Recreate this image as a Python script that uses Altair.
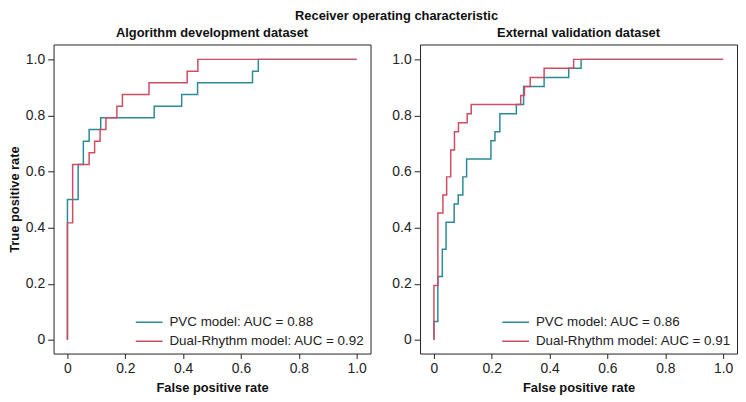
import altair as alt
import pandas as pd

TEAL = "#2b8b96"
RED = "#d04b64"
FONT = "Liberation Sans"

# Algorithm development dataset
dev_pvc_fpr = [0, 0, 0.037, 0.055, 0.075, 0.115, 0.30, 0.395, 0.45, 0.64, 0.66, 1.0]
dev_pvc_tpr = [0, 0.5, 0.625, 0.708, 0.75, 0.792, 0.833, 0.875, 0.917, 0.958, 1.0, 1.0]
dev_dual_fpr = [0, 0, 0.018, 0.075, 0.094, 0.113, 0.133, 0.171, 0.19, 0.282, 0.414, 0.451, 1.0]
dev_dual_tpr = [0, 0.417, 0.625, 0.667, 0.708, 0.75, 0.792, 0.833, 0.875, 0.917, 0.958, 1.0, 1.0]

# External validation dataset
ext_pvc_fpr = [0, 0, 0.0136, 0.029, 0.042, 0.07, 0.084, 0.1, 0.113, 0.197, 0.211, 0.228,
               0.285, 0.31, 0.381, 0.466, 0.509, 1.0]
ext_pvc_tpr = [0, 0.065, 0.226, 0.323, 0.419, 0.484, 0.516, 0.581, 0.645, 0.71, 0.742, 0.806,
               0.839, 0.903, 0.935, 0.968, 1.0, 1.0]
ext_dual_fpr = [0, 0, 0.0136, 0.031, 0.044, 0.058, 0.071, 0.085, 0.115, 0.129, 0.30, 0.313,
                0.333, 0.381, 0.483, 1.0]
ext_dual_tpr = [0, 0.194, 0.452, 0.516, 0.581, 0.677, 0.742, 0.774, 0.806, 0.839, 0.871, 0.903,
                0.935, 0.968, 1.0, 1.0]

dev_labels = ["PVC model: AUC = 0.88", "Dual-Rhythm model: AUC = 0.92"]
ext_labels = ["PVC model: AUC = 0.86", "Dual-Rhythm model: AUC = 0.91"]
panel_titles = ["Algorithm development dataset", "External validation dataset"]
tick_values = [0, 0.2, 0.4, 0.6, 0.8, 1.0]

LABEL_EXPR = "datum.value == 0 ? '0' : format(datum.value, '.1f')"


def make_df(fpr, tpr, label):
    return pd.DataFrame({"fpr": fpr, "tpr": tpr, "model": label, "idx": list(range(len(fpr)))})


def panel(title, pvc_df, dual_df, labels, show_ytitle):
    x = alt.X("fpr:Q",
              scale=alt.Scale(domain=[-0.048, 1.048], nice=False, zero=False),
              axis=alt.Axis(values=tick_values, labelExpr=LABEL_EXPR, title="False positive rate"))
    if show_ytitle:
        yaxis = alt.Axis(values=tick_values, labelExpr=LABEL_EXPR, title="True positive rate")
    else:
        yaxis = alt.Axis(values=tick_values, labelExpr=LABEL_EXPR, title=None)
    y = alt.Y("tpr:Q", scale=alt.Scale(domain=[-0.049, 1.053], nice=False, zero=False), axis=yaxis)
    color = alt.Color("model:N",
                      scale=alt.Scale(domain=labels, range=[TEAL, RED]),
                      legend=alt.Legend(title=None, orient="bottom-right"))
    base_mark = dict(interpolate="step-after", strokeWidth=1.5)
    l1 = alt.Chart(pvc_df).mark_line(**base_mark).encode(x=x, y=y, color=color, order="idx:Q")
    l2 = alt.Chart(dual_df).mark_line(**base_mark).encode(x=x, y=y, color=color, order="idx:Q")
    return alt.layer(l1, l2).properties(
        width=320, height=312,
        title=alt.TitleParams(title, anchor="middle", frame="group", offset=5),
    )


left = panel(panel_titles[0],
             make_df(dev_pvc_fpr, dev_pvc_tpr, dev_labels[0]),
             make_df(dev_dual_fpr, dev_dual_tpr, dev_labels[1]),
             dev_labels, True)
right = panel(panel_titles[1],
              make_df(ext_pvc_fpr, ext_pvc_tpr, ext_labels[0]),
              make_df(ext_dual_fpr, ext_dual_tpr, ext_labels[1]),
              ext_labels, False)

chart = (
    alt.hconcat(left, right, spacing=20)
    .resolve_scale(color="independent")
    .properties(
        padding=0,
        title=alt.TitleParams("Receiver operating characteristic", anchor="middle", offset=3, dx=24),
    )
    .configure_view(stroke="#222", strokeWidth=1)
    .configure_axis(grid=False, domain=False, tickColor="#222", tickSize=5,
                    labelColor="#222", labelFontSize=14, labelFont=FONT,
                    titleFont=FONT, titleFontSize=13, titleFontWeight="bold",
                    titleColor="#111", labelPadding=3)
    .configure_axisY(titlePadding=4, tickSize=6)
    .configure_axisX(titlePadding=6)
    .configure_legend(labelFont=FONT, labelFontSize=13.5, labelColor="#222", labelLimit=400,
                      symbolType="stroke", symbolStrokeWidth=1.5, symbolSize=729,
                      clipHeight=13, rowPadding=5, labelOffset=6, padding=0, offset=6)
    .configure_title(font=FONT, fontSize=13, fontWeight="bold", color="#111")
)

chart.save("out.html", embed_options={"renderer": "svg", "actions": False})
